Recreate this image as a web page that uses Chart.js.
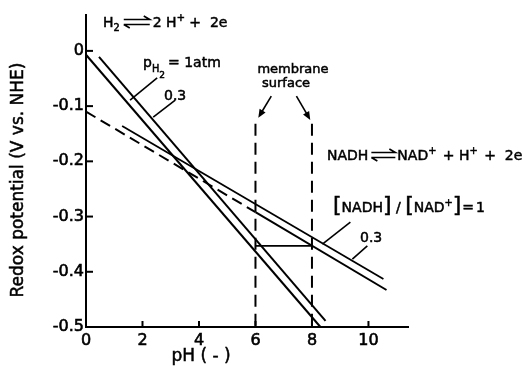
<!DOCTYPE html>
<html>
<head>
<meta charset="utf-8">
<script src="https://cdn.jsdelivr.net/npm/chart.js@4/dist/chart.umd.min.js"></script>
<style>
  body { margin: 0; background: #fff; }
  canvas { display: block; }
</style>
</head>
<body>
<canvas id="redoxChart" width="527" height="366"></canvas>
<script>
// axis ticks
const phTicks = [0, 2, 4, 6, 8, 10];
const phTickLabels = ['0', '2', '4', '6', '8', '10'];
const eTicks = [0, -0.1, -0.2, -0.3, -0.4, -0.5];
const eTickLabels = ['0', '-0.1', '-0.2', '-0.3', '-0.4', '-0.5'];

// H2 <-> 2H+ + 2e lines (pH, E)
const h2AtmPh = [0, 8.3];
const h2AtmE = [-0.007, -0.5];
const h2LowPh = [0.46, 8.48];
const h2LowE = [-0.011, -0.489];

// NADH <-> NAD+ + H+ + 2e lines
const nadhLowPh = [1.28, 10.53];          // [NADH]/[NAD+] = 0.3
const nadhLowE = [-0.136, -0.413];
const nadhEqDashPh = [0, 6];              // [NADH]/[NAD+] = 1, extrapolated part
const nadhEqDashE = [-0.110, -0.292];
const nadhEqPh = [6, 10.64];
const nadhEqE = [-0.292, -0.433];

// membrane surface markers
const membranePh = [6, 8];
const membraneE = [-0.132, -0.5];
const gapPh = [6, 8];
const gapE = [-0.353, -0.353];

function pts(xs, ys) {
    return xs.map(function(x, i) { return { x: x, y: ys[i] }; });
}

const FONT = '"DejaVu Sans", sans-serif';

// leader lines and arrows, given in data units [pH1, E1, pH2, E2]
const leaders = [
    [2.52, -0.049, 1.56, -0.089],
    [3.16, -0.089, 2.38, -0.120],
    [9.36, -0.310, 8.37, -0.350],
    [9.96, -0.353, 9.43, -0.377]
];
const arrows = [
    [6.56, -0.082, 6.10, -0.121],
    [7.45, -0.082, 7.94, -0.125]
];

// equilibrium harpoons, drawn as two half arrows
function harpoons(ctx, x, y, w) {
    ctx.save();
    ctx.lineWidth = 1.6;
    ctx.beginPath();
    ctx.moveTo(x, y - 2.5);
    ctx.lineTo(x + w, y - 2.5);
    ctx.lineTo(x + w - 6, y - 6);
    ctx.moveTo(x, y + 2.5);
    ctx.lineTo(x + w, y + 2.5);
    ctx.moveTo(x, y + 2.5);
    ctx.lineTo(x + 6, y + 6);
    ctx.stroke();
    ctx.restore();
}

// text with a light outline so it reads as heavy as the scan
function heavyText(ctx, t, x, y) {
    ctx.fillText(t, x, y);
    ctx.lineWidth = 0.5;
    ctx.strokeText(t, x, y);
}

// draws a run of text pieces, sub/superscripts included
function drawRich(ctx, x, y, parts, size) {
    parts.forEach(function(p) {
        if (p.arrow) {
            harpoons(ctx, x, y - size * 0.36, p.arrow);
            x += p.arrow + (p.gap || 0);
            return;
        }
        const s = p.size || (p.sub || p.sup ? size * 0.7 : size);
        ctx.font = s + 'px ' + FONT;
        let dy = p.dy || 0;
        if (p.sub && !p.dy) dy = size * 0.3;
        if (p.sup) dy = -size * 0.45;
        heavyText(ctx, p.t, x, y + dy);
        x += ctx.measureText(p.t).width + (p.gap || 0);
    });
}

const decorations = {
    id: 'decorations',
    afterDraw: function(chart) {
        const ctx = chart.ctx;
        const xs = chart.scales.x;
        const ys = chart.scales.y;
        const area = chart.chartArea;
        ctx.save();
        ctx.strokeStyle = '#000';
        ctx.fillStyle = '#000';
        ctx.lineWidth = 2;

        // inward tick marks
        eTicks.forEach(function(v) {
            const y = ys.getPixelForValue(v);
            ctx.beginPath();
            ctx.moveTo(area.left, y);
            ctx.lineTo(area.left + 7, y);
            ctx.stroke();
        });
        phTicks.forEach(function(v) {
            const x = xs.getPixelForValue(v);
            ctx.beginPath();
            ctx.moveTo(x, area.bottom);
            ctx.lineTo(x, area.bottom - 6);
            ctx.stroke();
        });

        // leaders
        ctx.lineWidth = 1.6;
        leaders.forEach(function(l) {
            ctx.beginPath();
            ctx.moveTo(xs.getPixelForValue(l[0]), ys.getPixelForValue(l[1]));
            ctx.lineTo(xs.getPixelForValue(l[2]), ys.getPixelForValue(l[3]));
            ctx.stroke();
        });

        // arrows
        arrows.forEach(function(a) {
            const x1 = xs.getPixelForValue(a[0]), y1 = ys.getPixelForValue(a[1]);
            const x2 = xs.getPixelForValue(a[2]), y2 = ys.getPixelForValue(a[3]);
            const ang = Math.atan2(y2 - y1, x2 - x1);
            ctx.beginPath();
            ctx.moveTo(x1, y1);
            ctx.lineTo(x2 - 4 * Math.cos(ang), y2 - 4 * Math.sin(ang));
            ctx.stroke();
            ctx.beginPath();
            ctx.moveTo(x2, y2);
            ctx.lineTo(x2 - 9 * Math.cos(ang - 0.4), y2 - 9 * Math.sin(ang - 0.4));
            ctx.lineTo(x2 - 9 * Math.cos(ang + 0.4), y2 - 9 * Math.sin(ang + 0.4));
            ctx.closePath();
            ctx.fill();
        });

        // texts
        ctx.textBaseline = 'alphabetic';
        ctx.textAlign = 'left';
        drawRich(ctx, 103, 27, [
            { t: 'H' }, { t: '2', sub: true, gap: 4 },
            { arrow: 26, gap: 3 },
            { t: '2 H' }, { t: '+', sup: true },
            { t: ' +  2e' }
        ], 14);

        drawRich(ctx, 143, 67, [
            { t: 'p' }, { t: 'H', sub: true, dy: 5 },
            { t: '2', sub: true, size: 9, dy: 11, gap: 3 },
            { t: '= 1atm' }
        ], 14);
        drawRich(ctx, 164, 100, [{ t: '0.3' }], 14);

        ctx.textAlign = 'center';
        ctx.font = '13px ' + FONT;
        heavyText(ctx, 'membrane', 293, 73);
        heavyText(ctx, 'surface', 286, 87);
        ctx.textAlign = 'left';

        drawRich(ctx, 327, 160, [
            { t: 'NADH', gap: 3 },
            { arrow: 24, gap: 2 },
            { t: 'NAD' }, { t: '+', sup: true, gap: 2 },
            { t: ' + H' }, { t: '+', sup: true, gap: 2 },
            { t: ' +  2e' }
        ], 14);

        drawRich(ctx, 333, 212, [
            { t: '[', size: 22 }, { t: 'NADH' }, { t: ']', size: 22 },
            { t: ' / ' },
            { t: '[', size: 22 }, { t: 'NAD' }, { t: '+', sup: true },
            { t: ']', size: 22, gap: 1 }, { t: '=', gap: 2 }, { t: '1' }
        ], 14);
        drawRich(ctx, 360, 242, [{ t: '0.3' }], 14);

        // axis titles
        ctx.font = '17px ' + FONT;
        ctx.textAlign = 'center';
        ctx.textBaseline = 'middle';
        heavyText(ctx, 'pH ( - )', 201, 357);
        ctx.translate(19, 180);
        ctx.rotate(-Math.PI / 2);
        heavyText(ctx, 'Redox potential (V vs. NHE)', 0, 0);
        ctx.restore();
    }
};

function lineSet(data, dash, width) {
    return {
        data: data,
        borderColor: '#000',
        borderWidth: width || 2,
        borderDash: dash || [],
        pointRadius: 0,
        showLine: true,
        fill: false,
        clip: false
    };
}

const tickFont = { family: FONT, size: 16 };

const ctx = document.getElementById('redoxChart').getContext('2d');
const redoxChart = new Chart(ctx, {
    type: 'scatter',
    data: {
        datasets: [
            lineSet(pts(h2AtmPh, h2AtmE)),
            lineSet(pts(h2LowPh, h2LowE)),
            lineSet(pts(nadhLowPh, nadhLowE), null, 1.8),
            lineSet(pts(nadhEqDashPh, nadhEqDashE), [11, 6]),
            lineSet(pts(nadhEqPh, nadhEqE)),
            lineSet(pts([membranePh[0], membranePh[0]], membraneE), [12, 7]),
            lineSet(pts([membranePh[1], membranePh[1]], membraneE), [12, 7]),
            lineSet(pts(gapPh, gapE), null, 1.8)
        ]
    },
    options: {
        responsive: false,
        animation: false,
        layout: { padding: { top: 15, right: 119, left: 0, bottom: 0 } },
        plugins: {
            legend: { display: false },
            tooltip: { enabled: false }
        },
        scales: {
            x: {
                type: 'linear',
                min: 0,
                max: 11.4,
                afterBuildTicks: function(scale) {
                    scale.ticks = phTicks.map(function(v) { return { value: v }; });
                },
                afterFit: function(scale) { scale.height = 39; },
                grid: { drawOnChartArea: false, drawTicks: false },
                border: { color: '#000', width: 2 },
                ticks: {
                    color: '#000',
                    textStrokeColor: '#000',
                    textStrokeWidth: 0.6,
                    padding: 4,
                    maxRotation: 0,
                    autoSkip: false,
                    font: tickFont,
                    callback: function(v) { return phTickLabels[phTicks.indexOf(v)]; }
                }
            },
            y: {
                type: 'linear',
                min: -0.5,
                max: 0.065,
                afterBuildTicks: function(scale) {
                    scale.ticks = eTicks.map(function(v) { return { value: v }; });
                },
                afterFit: function(scale) { scale.width = 86; },
                grid: { drawOnChartArea: false, drawTicks: false },
                border: { color: '#000', width: 2 },
                ticks: {
                    color: '#000',
                    textStrokeColor: '#000',
                    textStrokeWidth: 0.6,
                    padding: 2,
                    autoSkip: false,
                    font: tickFont,
                    callback: function(v) { return eTickLabels[eTicks.indexOf(v)]; }
                }
            }
        }
    },
    plugins: [decorations]
});
</script>
</body>
</html>
